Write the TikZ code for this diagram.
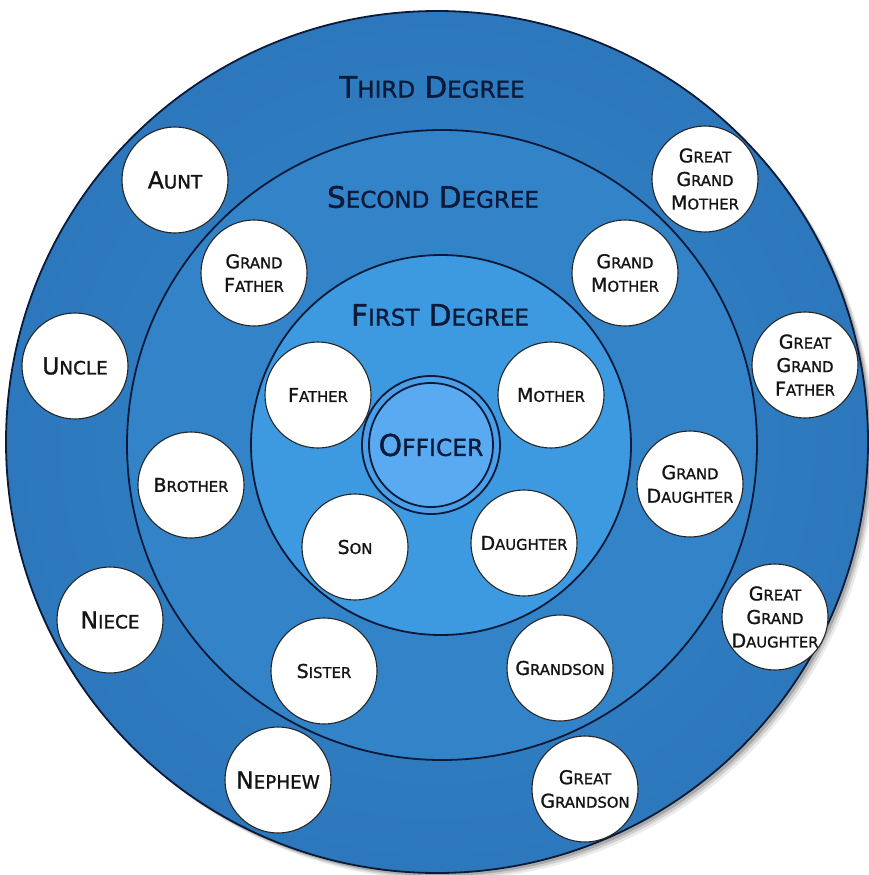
\documentclass[tikz,border=0pt]{standalone}
\usepackage{fontspec}
\setmainfont{DejaVu Sans}[RawFeature={embolden=1.2}]
\newcommand\Sc[2]{#1\scalebox{0.78}{#2}}
\definecolor{navy}{HTML}{0B1A38}
\definecolor{ringA}{HTML}{3584CA}
\definecolor{ringAo}{HTML}{2D78BC}
\definecolor{ringB}{HTML}{3383C9}
\definecolor{ringC}{HTML}{3D9AE0}
\definecolor{offc}{HTML}{5AAAF2}
\definecolor{offr}{HTML}{4B9FE8}
\tikzset{
  ring/.style={circle, draw=navy, line width=1.8pt, inner sep=0pt},
  person/.style={circle, fill=white, draw=black!85, line width=1.1pt, minimum size=106pt,
    inner sep=0pt, align=center, text=black!92, font=\fontsize{19}{23.5}\selectfont},
  bigperson/.style={person, font=\fontsize{23.5}{28}\selectfont},
  title/.style={text=navy, inner sep=0pt, font=\fontsize{29.5}{34}\selectfont},
}
\begin{document}
\begin{tikzpicture}[x=1pt,y=-1pt]
\useasboundingbox (0,0) rectangle (869,875);
% shadow
\foreach \o/\op in {7/0.08,5/0.12,3/0.18}{
  \fill[black, opacity=\op] (437+\o,442+\o) circle (431pt);
}
\node[ring, minimum size=862pt, inner color=ringA, outer color=ringAo] (third) at (437,442) {};
\node[ring, minimum size=630pt, fill=ringB] (second) at (442,445) {};
\node[ring, minimum size=380pt, fill=ringC] (first) at (441,445) {};
\node[ring, minimum size=138pt, fill=offr] (officerring) at (431,445) {};
\node[ring, minimum size=124pt, fill=offc, font=\fontsize{30}{34}\selectfont, text=navy] (officer) at (431,445) {\Sc{O}{FFICER}};

\node[title] (t3) at (432,87) {\Sc{T}{HIRD} \Sc{D}{EGREE}};
\node[title] (t2) at (433,197) {\Sc{S}{ECOND} \Sc{D}{EGREE}};
\node[title] (t1) at (440,315) {\Sc{F}{IRST} \Sc{D}{EGREE}};

% first degree
\node[person] (father) at (318,395) {\Sc{F}{ATHER}};
\node[person] (mother) at (551,395) {\Sc{M}{OTHER}};
\node[person] (son) at (355,547) {\Sc{S}{ON}};
\node[person] (daughter) at (524,543) {\Sc{D}{AUGHTER}};
% second degree
\node[person] (grandfather) at (254,273) {\Sc{G}{RAND}\\\Sc{F}{ATHER}};
\node[person] (grandmother) at (625,273) {\Sc{G}{RAND}\\\Sc{M}{OTHER}};
\node[person] (brother) at (191,485) {\Sc{B}{ROTHER}};
\node[person] (granddaughter) at (690,484) {\Sc{G}{RAND}\\\Sc{D}{AUGHTER}};
\node[person] (sister) at (324,671) {\Sc{S}{ISTER}};
\node[person] (grandson) at (560,668) {\Sc{G}{RANDSON}};
% third degree
\node[bigperson] (aunt) at (175,180) {\Sc{A}{UNT}};
\node[person] (ggmother) at (705,179) {\Sc{G}{REAT}\\\Sc{G}{RAND}\\\Sc{M}{OTHER}};
\node[bigperson] (uncle) at (75,366) {\Sc{U}{NCLE}};
\node[person] (ggfather) at (805,365) {\Sc{G}{REAT}\\\Sc{G}{RAND}\\\Sc{F}{ATHER}};
\node[bigperson] (niece) at (110,620) {\Sc{N}{IECE}};
\node[person] (ggdaughter) at (775,617) {\Sc{G}{REAT}\\\Sc{G}{RAND}\\\Sc{D}{AUGHTER}};
\node[bigperson] (nephew) at (278,780) {\Sc{N}{EPHEW}};
\node[person] (ggson) at (585,789) {\Sc{G}{REAT}\\\Sc{G}{RANDSON}};
\end{tikzpicture}
\end{document}
